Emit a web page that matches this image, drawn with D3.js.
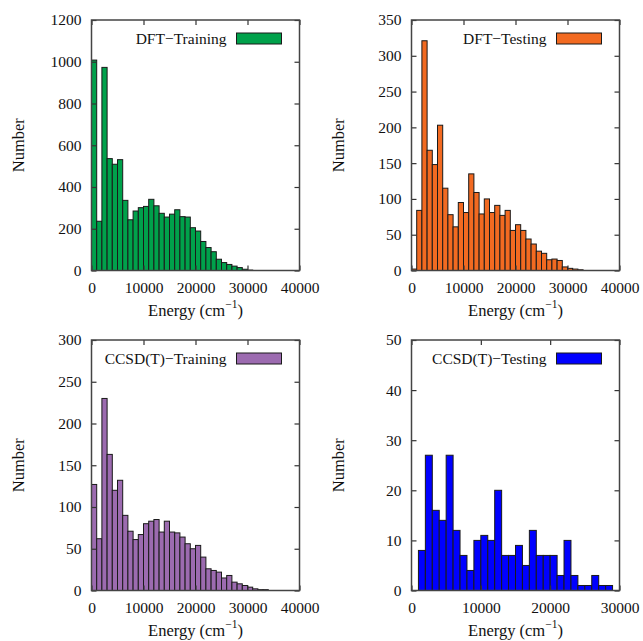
<!DOCTYPE html>
<html>
<head>
<meta charset="utf-8">
<script src="https://cdn.jsdelivr.net/npm/d3@7"></script>
<style>
  body { margin: 0; background: #fff; }
  svg text { font-family: "Liberation Serif", "DejaVu Serif", serif !important; fill: #111; }
</style>
</head>
<body>
<svg id="chart" width="643" height="641"></svg>
<script>
// Histogram counts, 1000 cm^-1 bins starting at 0 cm^-1
const binWidth = 1000;
const dftTraining = [1008, 236, 973, 536, 509, 531, 336, 243, 285, 301, 307, 341, 310, 274, 256, 270,
  291, 258, 256, 205, 189, 139, 110, 90, 54, 38, 29, 21, 14, 6, 2];
const dftTesting = [2, 84, 321, 168, 148, 203, 115, 78, 61, 95, 81, 135, 109, 79, 100, 81, 91, 77, 84,
  56, 64, 56, 44, 37, 27, 24, 15, 16, 14, 5, 3, 2, 1];
const ccsdTraining = [127, 62, 230, 163, 120, 132, 90, 71, 61, 67, 80, 83, 85, 70, 83, 70, 69, 64, 56,
  50, 54, 40, 26, 24, 22, 15, 18, 10, 8, 6, 4, 2, 1, 1];
const ccsdTesting = [0, 8, 27, 16, 14, 27, 12, 7, 4, 10, 11, 10, 20, 7, 7, 9, 5, 12, 7, 7, 7, 3, 10, 3,
  1, 1, 3, 1, 1];

const seriesNames = ["DFT\u2212Training", "DFT\u2212Testing", "CCSD(T)\u2212Training", "CCSD(T)\u2212Testing"];
const seriesColors = ["#00a14b", "#f26a21", "#9c6bb0", "#0000ff"];
const seriesValues = [dftTraining, dftTesting, ccsdTraining, ccsdTesting];

const xTicksWide = [0, 10000, 20000, 30000, 40000];
const xTicksNarrow = [0, 10000, 20000, 30000];
const yTicks = [
  [0, 200, 400, 600, 800, 1000, 1200],
  [0, 50, 100, 150, 200, 250, 300, 350],
  [0, 50, 100, 150, 200, 250, 300],
  [0, 10, 20, 30, 40, 50]
];
const xTickSets = [xTicksWide, xTicksWide, xTicksWide, xTicksNarrow];

const yLabel = "Number";

// Panel frames (pixel layout)
const panels = [
  { left: 91.5, top: 20, width: 208, height: 250.5 },
  { left: 411.5, top: 20, width: 208, height: 250.5 },
  { left: 91.5, top: 340, width: 208, height: 250.5 },
  { left: 411.5, top: 340, width: 208, height: 250.5 }
];

const svg = d3.select("#chart");
const tickFont = 15.5;

panels.forEach((p, i) => {
  const values = seriesValues[i];
  const xt = xTickSets[i];
  const yt = yTicks[i];
  const x = d3.scaleLinear().domain([xt[0], xt[xt.length - 1]]).range([0, p.width]);
  const y = d3.scaleLinear().domain([yt[0], yt[yt.length - 1]]).range([p.height, 0]);

  const g = svg.append("g").attr("transform", `translate(${p.left},${p.top})`);

  // bars
  const bins = values.map((v, k) => ({ x0: k * binWidth, x1: (k + 1) * binWidth, v }))
    .filter(d => d.v > 0);
  g.selectAll("rect.bar").data(bins).join("rect")
    .attr("class", "bar")
    .attr("x", d => x(d.x0))
    .attr("y", d => y(d.v))
    .attr("width", d => x(d.x1) - x(d.x0))
    .attr("height", d => y(0) - y(d.v))
    .attr("fill", seriesColors[i])
    .attr("stroke", "#1a1a1a")
    .attr("stroke-width", 1);

  // axes with inward ticks on all four sides
  const styleAxis = sel => {
    sel.attr("font-family", null).attr("font-size", null);
    sel.select(".domain").remove();
    sel.selectAll(".tick line").attr("stroke", "#333").attr("stroke-width", 1.2);
    sel.selectAll(".tick text")
      .style("font-family", "'Liberation Serif', serif")
      .style("font-size", tickFont + "px");
  };
  g.append("g").attr("transform", `translate(0,${p.height})`)
    .call(d3.axisBottom(x).tickValues(xt).tickFormat(d3.format("d")).tickSize(-5).tickPadding(11))
    .call(styleAxis);
  g.append("g")
    .call(d3.axisTop(x).tickValues(xt).tickFormat("").tickSize(-5))
    .call(styleAxis);
  g.append("g")
    .call(d3.axisLeft(y).tickValues(yt).tickFormat(d3.format("d")).tickSize(-5).tickPadding(10))
    .call(styleAxis);
  g.append("g").attr("transform", `translate(${p.width},0)`)
    .call(d3.axisRight(y).tickValues(yt).tickFormat("").tickSize(-5))
    .call(styleAxis);

  // frame
  g.append("rect")
    .attr("width", p.width).attr("height", p.height)
    .attr("fill", "none").attr("stroke", "#444").attr("stroke-width", 1.5);

  // legend
  const lg = g.append("g").attr("transform", `translate(${p.width - 18},${13})`);
  lg.append("rect")
    .attr("x", -45).attr("y", 0).attr("width", 45).attr("height", 11)
    .attr("fill", seriesColors[i]).attr("stroke", "#1a1a1a").attr("stroke-width", 1);
  lg.append("text")
    .attr("x", -55).attr("y", 11)
    .attr("text-anchor", "end").style("font-size", "15.5px")
    .text(seriesNames[i]);

  // x axis title
  const xt2 = g.append("text")
    .attr("x", p.width / 2).attr("y", p.height + 45)
    .attr("text-anchor", "middle").style("font-size", "16.5px");
  xt2.append("tspan").text("Energy (cm");
  xt2.append("tspan").style("font-size", "11.5px").attr("dy", -8).text("\u22121");
  xt2.append("tspan").attr("dy", 8).text(")");

  // y axis title
  g.append("text")
    .attr("transform", `translate(${-68},${p.height / 2}) rotate(-90)`)
    .attr("text-anchor", "middle").style("font-size", "16.5px")
    .text(yLabel);
});
</script>
</body>
</html>
